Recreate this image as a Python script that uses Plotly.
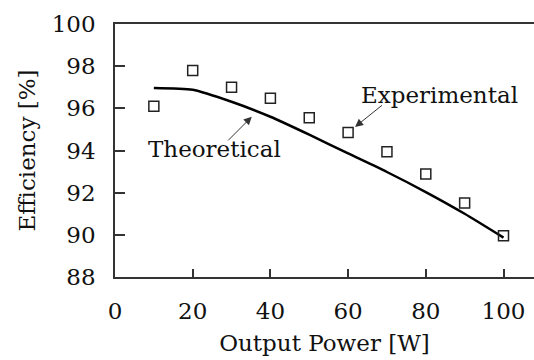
import plotly.graph_objects as go

power = [10, 20, 30, 40, 50, 60, 70, 80, 90, 100]
experimental = [96.1, 97.8, 97.0, 96.48, 95.55, 94.85, 93.94, 92.89, 91.51, 89.96]
theoretical = [96.97, 96.88, 96.31, 95.6, 94.75, 93.86, 92.98, 92.03, 91.0, 89.87]
x_ticks = [0, 20, 40, 60, 80, 100]
y_ticks = [88, 90, 92, 94, 96, 98, 100]

FONT = "DejaVu Serif"

fig = go.Figure()
fig.add_trace(go.Scatter(x=power, y=theoretical, mode="lines",
                         line=dict(color="black", width=2.5, shape="spline", smoothing=0.6),
                         showlegend=False))
fig.add_trace(go.Scatter(x=power, y=experimental, mode="markers",
                         marker=dict(symbol="square-open", size=10, color="#222",
                                     line=dict(width=1.5, color="#222")),
                         showlegend=False))

fig.add_annotation(x=61.8, y=95.12, ax=69.1, ay=96.2, axref="x", ayref="y",
                   xref="x", yref="y", showarrow=True, arrowhead=2, arrowsize=1.6,
                   arrowwidth=1, arrowcolor="#333", text="")
fig.add_annotation(x=35.2, y=95.6, ax=28.75, ay=94.41, axref="x", ayref="y",
                   xref="x", yref="y", showarrow=True, arrowhead=2, arrowsize=1.6,
                   arrowwidth=1, arrowcolor="#333", text="")
fig.add_annotation(x=83.4, y=96.63, xref="x", yref="y", text="Experimental",
                   showarrow=False, font=dict(family=FONT, size=23, color="#111"))
fig.add_annotation(x=25.7, y=94.06, xref="x", yref="y", text="Theoretical",
                   showarrow=False, font=dict(family=FONT, size=23, color="#111"))

fig.update_layout(
    width=534, height=360,
    margin=dict(l=115, r=0, t=24, b=83),
    plot_bgcolor="white", paper_bgcolor="white",
    font=dict(family=FONT, size=23, color="#111"),
    xaxis=dict(range=[0, 107.85], tickvals=x_ticks, ticks="inside", ticklen=8,
               tickwidth=1.5, tickcolor="#333", showline=True, linecolor="#333",
               linewidth=1.5, mirror=True, showgrid=False, zeroline=False,
               ticklabelstandoff=13,
               title=dict(text="Output Power [W]", font=dict(family=FONT, size=23), standoff=12)),
    yaxis=dict(range=[88, 100], tickvals=y_ticks, ticks="inside", ticklen=10,
               tickwidth=1.5, tickcolor="#333", showline=True, linecolor="#333",
               linewidth=1.5, mirror=False, showgrid=False, zeroline=False,
               ticklabelstandoff=13,
               title=dict(text="Efficiency [%]", font=dict(family=FONT, size=23), standoff=10)),
)

fig.write_html("out.html")
